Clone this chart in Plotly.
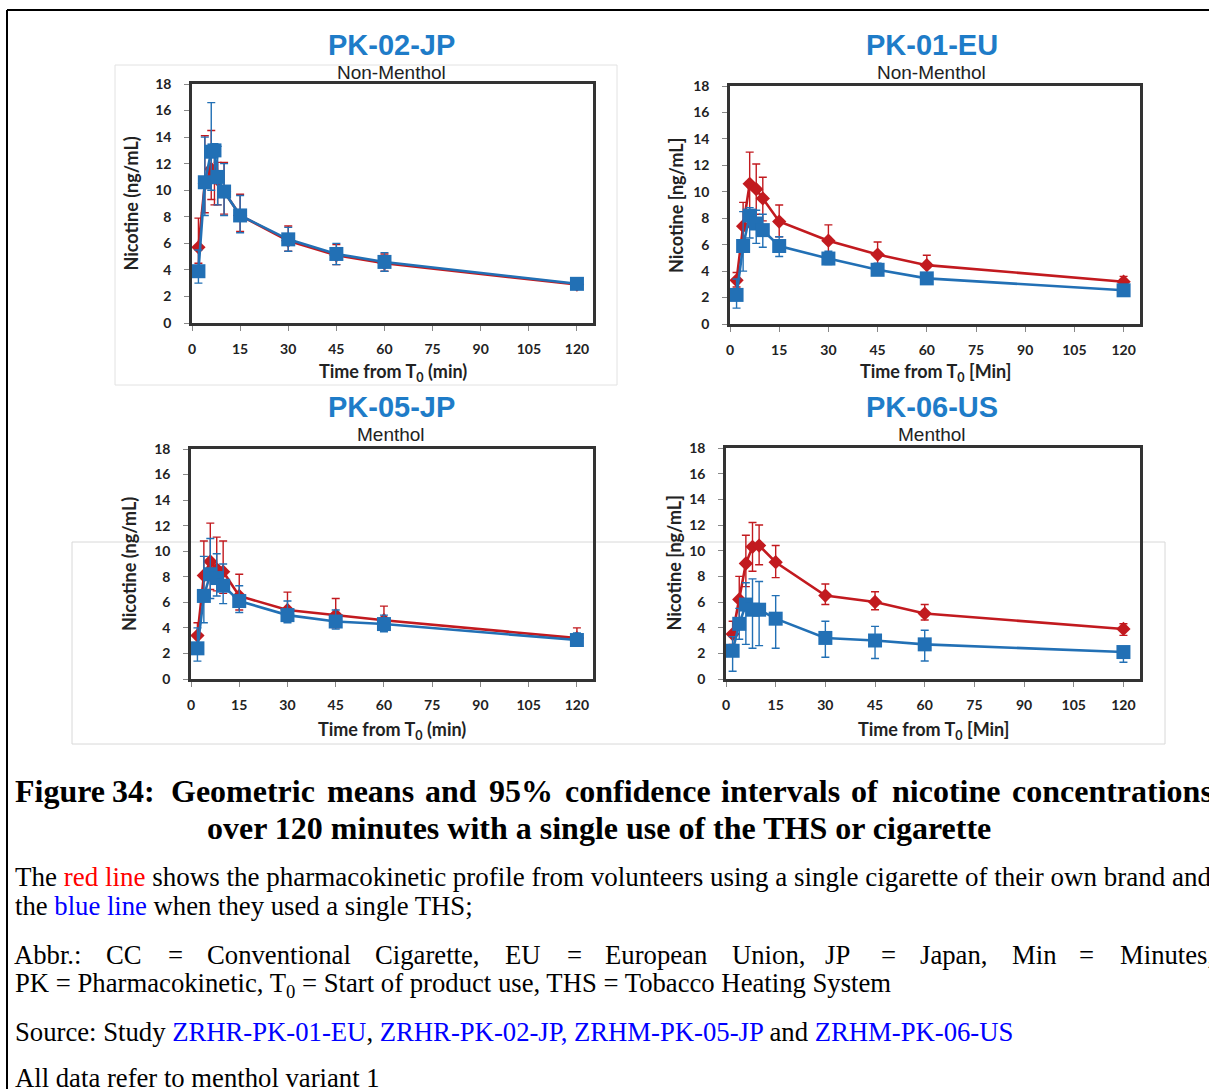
import plotly.graph_objects as go

W, H = 1209, 1089

# ---------------- data ----------------
panel_titles = ["PK-02-JP", "PK-01-EU", "PK-05-JP", "PK-06-US"]
panel_subtitles = ["Non-Menthol", "Non-Menthol", "Menthol", "Menthol"]
y_titles = ["Nicotine (ng/mL)", "Nicotine [ng/mL]", "Nicotine (ng/mL)", "Nicotine [ng/mL]"]
x_titles = ["Time from T<sub>0</sub> (min)", "Time from T<sub>0</sub> [Min]",
            "Time from T<sub>0</sub> (min)", "Time from T<sub>0</sub> [Min]"]
x_ticks = [0, 15, 30, 45, 60, 75, 90, 105, 120]
y_ticks = [0, 2, 4, 6, 8, 10, 12, 14, 16, 18]

# PK-02-JP
t1 = [2, 4, 6, 7, 8, 10, 15, 30, 45, 60, 120]
cc1 = [5.7, 10.5, 11.6, 11.2, 10.8, 9.9, 8.1, 6.2, 5.1, 4.5, 2.9]
cc1_hi = [7.9, 14.1, 14.5, 13.0, 12.1, 12.1, 9.7, 7.3, 5.9, 5.2, 3.2]
cc1_lo = [4.5, 8.3, 9.3, 8.9, 8.9, 8.2, 6.9, 5.4, 4.4, 3.9, 2.6]
ths1 = [3.9, 10.6, 12.9, 13.0, 11.0, 9.9, 8.1, 6.3, 5.2, 4.6, 2.95]
ths1_hi = [5.5, 14.0, 16.6, 13.5, 13.3, 12.0, 9.6, 7.2, 6.0, 5.3, 3.3]
ths1_lo = [3.0, 8.1, 10.0, 10.5, 8.9, 8.1, 6.8, 5.4, 4.4, 3.9, 2.6]

# PK-01-EU
t2 = [2, 4, 6, 8, 10, 15, 30, 45, 60, 120]
cc2 = [3.3, 7.4, 10.6, 10.2, 9.5, 7.75, 6.3, 5.25, 4.45, 3.2]
cc2_hi = [3.9, 9.2, 13.0, 12.1, 11.1, 9.0, 7.5, 6.2, 5.2, 3.6]
cc2_lo = [2.8, 5.8, 8.3, 8.3, 7.8, 6.6, 5.3, 4.5, 3.8, 2.8]
ths2 = [2.2, 5.9, 8.2, 7.6, 7.1, 5.9, 4.95, 4.1, 3.45, 2.55]
ths2_hi = [3.4, 8.5, 8.8, 8.6, 8.3, 6.6, 5.5, 4.6, 3.8, 2.9]
ths2_lo = [1.2, 4.0, 6.5, 6.1, 5.8, 5.1, 4.5, 3.7, 3.1, 2.2]

# PK-05-JP
t3 = [2, 4, 6, 8, 10, 15, 30, 45, 60, 120]
cc3 = [3.4, 8.1, 9.2, 8.6, 8.4, 6.5, 5.4, 5.0, 4.6, 3.2]
cc3_hi = [4.4, 10.8, 12.2, 11.1, 10.8, 8.2, 6.8, 6.3, 5.7, 4.0]
cc3_lo = [2.6, 6.2, 7.0, 6.9, 6.7, 5.4, 4.5, 4.0, 3.8, 2.6]
ths3 = [2.4, 6.5, 8.2, 7.9, 7.3, 6.1, 5.0, 4.5, 4.3, 3.05]
ths3_hi = [4.0, 9.6, 11.0, 9.8, 9.0, 7.3, 6.1, 5.4, 5.0, 3.6]
ths3_lo = [1.4, 4.4, 6.3, 6.5, 5.9, 5.2, 4.4, 3.9, 3.7, 2.6]

# PK-06-US
t4 = [2, 4, 6, 8, 10, 15, 30, 45, 60, 120]
cc4 = [3.5, 6.2, 9.0, 10.3, 10.4, 9.1, 6.5, 6.0, 5.1, 3.9]
cc4_hi = [4.5, 8.0, 11.2, 12.2, 12.0, 10.4, 7.4, 6.8, 5.8, 4.3]
cc4_lo = [2.7, 4.5, 7.2, 8.4, 8.9, 7.9, 5.8, 5.4, 4.6, 3.4]
ths4 = [2.2, 4.3, 5.8, 5.4, 5.4, 4.7, 3.2, 3.0, 2.7, 2.1]
ths4_hi = [3.3, 5.5, 7.5, 7.8, 7.6, 6.5, 4.5, 4.1, 3.8, 2.5]
ths4_lo = [0.6, 3.1, 2.7, 2.4, 2.6, 2.4, 1.7, 1.6, 1.4, 1.3]

panels = [
    (t1, cc1, cc1_hi, cc1_lo, ths1, ths1_hi, ths1_lo),
    (t2, cc2, cc2_hi, cc2_lo, ths2, ths2_hi, ths2_lo),
    (t3, cc3, cc3_hi, cc3_lo, ths3, ths3_hi, ths3_lo),
    (t4, cc4, cc4_hi, cc4_lo, ths4, ths4_hi, ths4_lo),
]

# ---------------- layout geometry (page pixels) ----------------
boxes = [  # x0, x1, ytop, ybottom
    (192, 593, 84, 323),
    (730, 1140, 86, 324),
    (191, 593, 449, 679),
    (726, 1140, 448, 679),
]

RED = "#C21A1F"
BLUE = "#2270B5"
TITLE_BLUE = "#1E7CC8"
AX = "#333333"


def px(x):
    return x / W


def py(y):
    return 1 - y / H


fig = go.Figure()

for i, (t, cc, cch, ccl, th, thh, thl) in enumerate(panels):
    n = i + 1
    xa = "x" if n == 1 else f"x{n}"
    ya = "y" if n == 1 else f"y{n}"
    fig.add_trace(go.Scatter(
        x=t, y=cc, xaxis=xa, yaxis=ya, mode="lines+markers",
        line=dict(color=RED, width=2.6),
        marker=dict(symbol="diamond", size=11, color=RED),
        error_y=dict(type="data", symmetric=False,
                     array=[h - v for h, v in zip(cch, cc)],
                     arrayminus=[v - l for v, l in zip(cc, ccl)],
                     color=RED, thickness=1.4, width=4),
        showlegend=False, cliponaxis=False))
    fig.add_trace(go.Scatter(
        x=t, y=th, xaxis=xa, yaxis=ya, mode="lines+markers",
        line=dict(color=BLUE, width=2.6),
        marker=dict(symbol="square", size=14, color=BLUE),
        error_y=dict(type="data", symmetric=False,
                     array=[h - v for h, v in zip(thh, th)],
                     arrayminus=[v - l for v, l in zip(th, thl)],
                     color=BLUE, thickness=1.4, width=4),
        showlegend=False, cliponaxis=False))

tick_font = dict(family="Lato, DejaVu Sans, sans-serif", size=14, color="#222222", weight="bold")
layout_axes = {}
for i, (x0, x1, yt, yb) in enumerate(boxes):
    n = i + 1
    xk = "xaxis" if n == 1 else f"xaxis{n}"
    yk = "yaxis" if n == 1 else f"yaxis{n}"
    layout_axes[xk] = dict(
        domain=[px(x0), px(x1)], range=[0, 125], anchor="y" if n == 1 else f"y{n}",
        tickvals=x_ticks, showgrid=False, zeroline=False, automargin=False,
        showline=True, mirror=True, linecolor=AX, linewidth=2.5,
        ticks="outside", ticklen=5, tickcolor="#888888", tickwidth=1,
        tickfont=tick_font, ticklabelstandoff=6)
    layout_axes[yk] = dict(
        domain=[py(yb), py(yt)], range=[0, 18], anchor="x" if n == 1 else f"x{n}",
        tickvals=y_ticks, showgrid=False, zeroline=False, automargin=False,
        showline=True, mirror=True, linecolor=AX, linewidth=2.5,
        ticks="outside", ticklen=5, tickcolor="#888888", tickwidth=1,
        tickfont=tick_font, ticklabelstandoff=10)

annotations = []
title_pos = [(391, 45, 72), (932, 45, 72), (391, 407, 435), (932, 407, 435)]
ytitle_x = [131, 676, 129, 673]
for i, (x0, x1, yt, yb) in enumerate(boxes):
    cx, ty, sy = title_pos[i]
    annotations.append(dict(text=f"<b>{panel_titles[i]}</b>", x=px(cx), y=py(ty),
                            xref="paper", yref="paper", showarrow=False,
                            xanchor="center", yanchor="middle",
                            font=dict(family="Liberation Sans, Arial, sans-serif", size=29, color=TITLE_BLUE)))
    annotations.append(dict(text=panel_subtitles[i], x=px(cx), y=py(sy),
                            xref="paper", yref="paper", showarrow=False,
                            xanchor="center", yanchor="middle",
                            font=dict(family="Liberation Sans, Arial, sans-serif", size=19, color="#222222")))
    annotations.append(dict(text=f"<b>{y_titles[i]}</b>", x=px(ytitle_x[i]), y=py((yt + yb) / 2),
                            xref="paper", yref="paper", showarrow=False, textangle=-90,
                            xanchor="center", yanchor="middle",
                            font=dict(family="Lato, DejaVu Sans, sans-serif", size=18, color="#222222")))
    xt_y = 372 if i < 2 else 730
    annotations.append(dict(text=f"<b>{x_titles[i]}</b>", x=px((x0 + x1) / 2), y=py(xt_y),
                            xref="paper", yref="paper", showarrow=False,
                            xanchor="center", yanchor="middle",
                            font=dict(family="Lato, DejaVu Sans, sans-serif", size=18, color="#222222")))

SERIF = "Liberation Serif, Times New Roman, serif"
RED_TXT = "#FF0000"
BLUE_TXT = "#0000FF"
BODY = 26.7
CAP = 32


def note(text, x, y, size=BODY, bold=False, anchor="left"):
    if bold:
        text = f"<b>{text}</b>"
    annotations.append(dict(text=text, x=px(x), y=py(y), xref="paper", yref="paper",
                            showarrow=False, xanchor=anchor, yanchor="middle",
                            font=dict(family=SERIF, size=size, color="#000000")))


cap_words = ["Figure", "34:", "Geometric", "means", "and", "95%", "confidence", "intervals",
             "of", "nicotine", "concentrations"]
cap_x = [13, 110, 169, 325, 423, 487, 563, 719, 849, 890, 1010]
for wd, xx in zip(cap_words, cap_x):
    note(wd, xx, 791, size=CAP, bold=True)
note("over 120 minutes with a single use of the THS or cigarette", 599, 828, size=CAP, bold=True,
     anchor="center")
note(f"The <span style='color:{RED_TXT}'>red line</span> shows the pharmacokinetic profile from "
     "volunteers using a single cigarette of their own brand and", 13, 877, size=27)
note(f"the <span style='color:{BLUE_TXT}'>blue line</span> when they used a single THS;", 13, 906)

abbr_words = ["Abbr.:", "CC", "=", "Conventional", "Cigarette,", "EU", "=", "European",
              "Union,", "JP", "=", "Japan,", "Min", "=", "Minutes,"]
abbr_x = [12, 104, 166, 205, 373, 503, 565, 603, 730, 823, 879, 918, 1010, 1077, 1118]
for wd, xx in zip(abbr_words, abbr_x):
    note(wd, xx, 955)
note("PK = Pharmacokinetic, T<sub>0</sub> = Start of product use, THS = Tobacco Heating System", 13, 985)
note(f"Source: Study <span style='color:{BLUE_TXT}'>ZRHR-PK-01-EU</span>, "
     f"<span style='color:{BLUE_TXT}'>ZRHR-PK-02-JP, ZRHM-PK-05-JP</span> and "
     f"<span style='color:{BLUE_TXT}'>ZRHM-PK-06-US</span>", 13, 1032)
note("All data refer to menthol variant 1", 13, 1078)

shapes = [
    # page frame
    dict(type="line", xref="paper", yref="paper", x0=px(7), x1=px(1209), y0=py(10), y1=py(10),
         line=dict(color="#000000", width=2)),
    dict(type="line", xref="paper", yref="paper", x0=px(7), x1=px(7), y0=py(10), y1=py(1089),
         line=dict(color="#000000", width=2)),
    # faint boxes around chart images
    dict(type="rect", xref="paper", yref="paper", x0=px(115), x1=px(617), y0=py(65), y1=py(385),
         line=dict(color="#E2E2E2", width=1), layer="below"),
    dict(type="rect", xref="paper", yref="paper", x0=px(72), x1=px(1165), y0=py(542), y1=py(744),
         line=dict(color="#D8D8D8", width=1), layer="below"),
]

fig.update_layout(
    template="none",
    width=W, height=H, margin=dict(l=0, r=0, t=0, b=0, pad=0, autoexpand=False),
    paper_bgcolor="white", plot_bgcolor="white",
    annotations=annotations, shapes=shapes, showlegend=False,
    **layout_axes)

fig.write_html("out.html", config={"displayModeBar": False},
               post_script="document.body.style.margin='0px';document.body.style.overflow='hidden';")
